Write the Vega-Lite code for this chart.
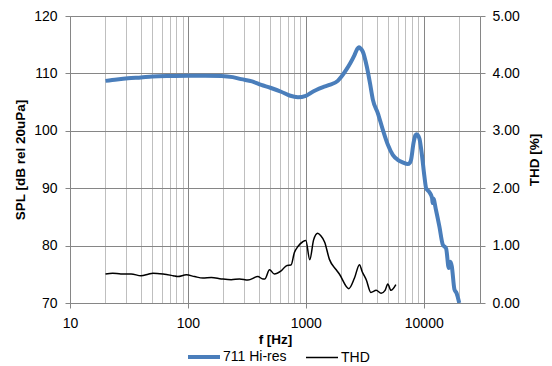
{
  "$schema": "https://vega.github.io/schema/vega-lite/v6.json",
  "width": 410,
  "height": 287,
  "autosize": {"type": "none"},
  "padding": {"left": 70, "top": 16, "right": 72, "bottom": 63},
  "background": "white",
  "config": {
    "font": "Liberation Sans",
    "view": {"stroke": null},
    "axis": {
      "labelFont": "Liberation Sans",
      "labelFontSize": 14,
      "labelColor": "#000000",
      "titleFont": "Liberation Sans",
      "titleFontSize": 13.5,
      "titleFontWeight": "bold",
      "titleColor": "#000000",
      "domainColor": "#868686",
      "tickColor": "#868686",
      "gridColor": "#868686",
      "tickSize": 5,
      "domainWidth": 1,
      "gridWidth": 1,
      "tickWidth": 1
    },
    "legend": {
      "labelFont": "Liberation Sans",
      "labelFontSize": 14,
      "labelColor": "#000000"
    }
  },
  "datasets": {
    "spl": [
      {"f": 20, "spl": 108.7},
      {"f": 25, "spl": 108.95},
      {"f": 31, "spl": 109.15},
      {"f": 40, "spl": 109.3},
      {"f": 50, "spl": 109.45},
      {"f": 70, "spl": 109.55},
      {"f": 100, "spl": 109.6},
      {"f": 140, "spl": 109.6},
      {"f": 192, "spl": 109.55},
      {"f": 240, "spl": 109.35},
      {"f": 283, "spl": 109.0},
      {"f": 350, "spl": 108.6},
      {"f": 419, "spl": 108.0},
      {"f": 500, "spl": 107.5},
      {"f": 617, "spl": 106.8},
      {"f": 728, "spl": 106.15},
      {"f": 857, "spl": 105.85},
      {"f": 1000, "spl": 106.1},
      {"f": 1100, "spl": 106.6},
      {"f": 1225, "spl": 107.1},
      {"f": 1400, "spl": 107.6},
      {"f": 1585, "spl": 108.0},
      {"f": 1866, "spl": 108.7},
      {"f": 2000, "spl": 109.4},
      {"f": 2198, "spl": 110.6},
      {"f": 2400, "spl": 111.9},
      {"f": 2586, "spl": 113.2},
      {"f": 2720, "spl": 114.2},
      {"f": 2813, "spl": 114.55},
      {"f": 2900, "spl": 114.4},
      {"f": 3042, "spl": 113.8},
      {"f": 3289, "spl": 111.2},
      {"f": 3500, "spl": 108.3},
      {"f": 3706, "spl": 105.4},
      {"f": 4077, "spl": 103.1},
      {"f": 4494, "spl": 100.2},
      {"f": 4955, "spl": 97.6},
      {"f": 5462, "spl": 95.8},
      {"f": 6021, "spl": 94.95},
      {"f": 6637, "spl": 94.5},
      {"f": 7316, "spl": 94.2},
      {"f": 7600, "spl": 94.4},
      {"f": 7810, "spl": 94.95},
      {"f": 8180, "spl": 97.8},
      {"f": 8500, "spl": 99.2},
      {"f": 8730, "spl": 99.4},
      {"f": 9000, "spl": 99.1},
      {"f": 9200, "spl": 98.6},
      {"f": 9690, "spl": 95.5},
      {"f": 10140, "spl": 92.0},
      {"f": 10480, "spl": 90.0},
      {"f": 11170, "spl": 89.3},
      {"f": 11770, "spl": 88.3},
      {"f": 11900, "spl": 87.4},
      {"f": 12050, "spl": 88.2},
      {"f": 12700, "spl": 86.2},
      {"f": 13580, "spl": 83.3},
      {"f": 14490, "spl": 80.2},
      {"f": 15480, "spl": 79.5},
      {"f": 16300, "spl": 76.1},
      {"f": 16840, "spl": 77.2},
      {"f": 17300, "spl": 76.4},
      {"f": 18200, "spl": 72.4},
      {"f": 19000, "spl": 71.7},
      {"f": 20000, "spl": 70.0}
    ],
    "thd": [
      {"f": 20, "thd": 0.505},
      {"f": 23, "thd": 0.52},
      {"f": 27, "thd": 0.505},
      {"f": 33, "thd": 0.505},
      {"f": 40, "thd": 0.475},
      {"f": 46, "thd": 0.5},
      {"f": 50.5, "thd": 0.52},
      {"f": 61.5, "thd": 0.505},
      {"f": 75, "thd": 0.475},
      {"f": 82, "thd": 0.46},
      {"f": 97, "thd": 0.49},
      {"f": 114, "thd": 0.46},
      {"f": 134, "thd": 0.435},
      {"f": 158, "thd": 0.445},
      {"f": 192, "thd": 0.42},
      {"f": 233, "thd": 0.405},
      {"f": 274, "thd": 0.42},
      {"f": 323, "thd": 0.4},
      {"f": 392, "thd": 0.46},
      {"f": 432, "thd": 0.42},
      {"f": 450, "thd": 0.42},
      {"f": 492, "thd": 0.58},
      {"f": 541, "thd": 0.505},
      {"f": 617, "thd": 0.56},
      {"f": 693, "thd": 0.655},
      {"f": 748, "thd": 0.66},
      {"f": 800, "thd": 0.88},
      {"f": 857, "thd": 0.985},
      {"f": 942, "thd": 1.067},
      {"f": 1000, "thd": 1.09},
      {"f": 1080, "thd": 0.754},
      {"f": 1164, "thd": 1.1},
      {"f": 1260, "thd": 1.215},
      {"f": 1340, "thd": 1.17},
      {"f": 1445, "thd": 1.06},
      {"f": 1585, "thd": 0.76},
      {"f": 1810, "thd": 0.58},
      {"f": 1930, "thd": 0.5},
      {"f": 2314, "thd": 0.25},
      {"f": 2586, "thd": 0.435},
      {"f": 2850, "thd": 0.667},
      {"f": 3000, "thd": 0.55},
      {"f": 3260, "thd": 0.4},
      {"f": 3560, "thd": 0.185},
      {"f": 3953, "thd": 0.22},
      {"f": 4350, "thd": 0.17},
      {"f": 4700, "thd": 0.22},
      {"f": 4955, "thd": 0.33},
      {"f": 5270, "thd": 0.22},
      {"f": 5800, "thd": 0.32}
    ]
  },
  "encoding": {
    "x": {
      "field": "f",
      "type": "quantitative",
      "title": "f [Hz]",
      "scale": {"type": "log", "domain": [10, 30000], "nice": false},
      "axis": {
        "values": [10, 20, 30, 40, 50, 60, 70, 80, 90, 100, 200, 300, 400, 500, 600, 700, 800, 900, 1000, 2000, 3000, 4000, 5000, 6000, 7000, 8000, 9000, 10000, 20000, 30000],
        "format": "d",
        "labelExpr": "(datum.value == 10 || datum.value == 100 || datum.value == 1000 || datum.value == 10000) ? datum.label : ''",
        "grid": true,
        "gridColor": {"condition": {"test": "datum.value == 10 || datum.value == 100 || datum.value == 1000 || datum.value == 10000", "value": "#868686"}, "value": "#bfbfbf"},
        "tickColor": {"condition": {"test": "datum.value == 10 || datum.value == 100 || datum.value == 1000 || datum.value == 10000", "value": "#868686"}, "value": "transparent"},
        "labelPadding": 8,
        "titlePadding": 2,
        "labelFlush": false,
        "labelOverlap": false
      }
    }
  },
  "layer": [
    {
      "data": {"name": "spl"},
      "mark": {"type": "line", "interpolate": "monotone", "strokeWidth": 4, "clip": true},
      "encoding": {
        "y": {
          "field": "spl",
          "type": "quantitative",
          "title": "SPL [dB rel 20uPa]",
          "scale": {"domain": [70, 120], "nice": false, "zero": false},
          "axis": {"values": [70, 80, 90, 100, 110, 120], "grid": true, "labelPadding": 8, "titlePadding": 6, "orient": "left"}
        },
        "color": {
          "datum": "711 Hi-res",
          "type": "nominal",
          "scale": {"domain": ["711 Hi-res", "THD"], "range": ["#4a7ebb", "#000000"]},
          "legend": {
            "title": null,
            "orient": "none",
            "direction": "horizontal",
            "legendX": 127,
            "legendY": 334,
            "symbolType": "stroke",
            "symbolSize": 1024,
            "labelOffset": 12,
            "columnPadding": 16,
            "padding": 0,
            "encode": {"symbols": {"update": {"strokeWidth": {"signal": "datum.value == 'THD' ? 1.5 : 4"}}}}
          }
        }
      }
    },
    {
      "data": {"name": "thd"},
      "mark": {"type": "line", "interpolate": "monotone", "strokeWidth": 1.5, "clip": true},
      "encoding": {
        "y": {
          "field": "thd",
          "type": "quantitative",
          "title": "THD [%]",
          "scale": {"domain": [0, 5], "nice": false},
          "axis": {"values": [0, 1, 2, 3, 4, 5], "format": ".2f", "grid": false, "orient": "right", "labelPadding": 7, "titlePadding": 22, "titleAngle": 270}
        },
        "color": {"datum": "THD", "type": "nominal"}
      }
    }
  ],
  "resolve": {"scale": {"y": "independent"}}
}
